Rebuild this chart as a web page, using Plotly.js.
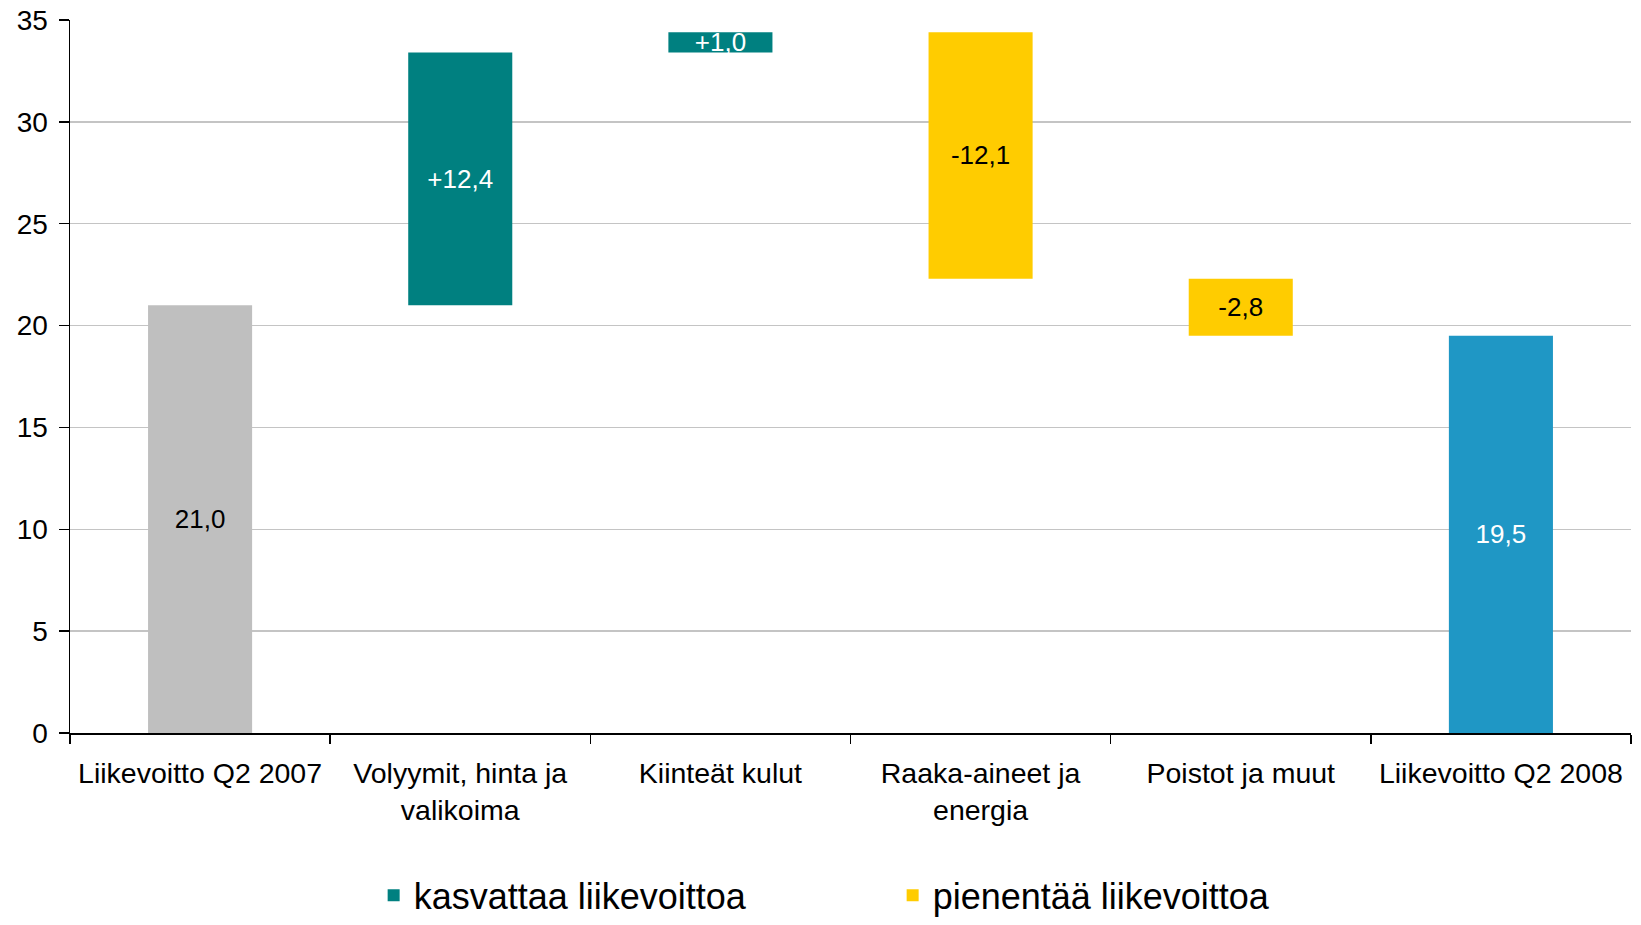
<!DOCTYPE html>
<html>
<head>
<meta charset="utf-8">
<script src="https://cdn.plot.ly/plotly-3.0.1.min.js"></script>
<style>html,body{margin:0;padding:0;background:#fff;}#chart{width:1641px;height:925px;}</style>
</head>
<body>
<div id="chart"></div>
<script>
// ---- data ----
const categories = [
  "Liikevoitto Q2 2007",
  "Volyymit, hinta ja<br>valikoima",
  "Kiinteät kulut",
  "Raaka-aineet ja<br>energia",
  "Poistot ja muut",
  "Liikevoitto Q2 2008"
];
const startValue = 21.0;                 // Liikevoitto Q2 2007
const changes = [12.4, 1.0, -12.1, -2.8]; // bridge steps
const endValue = 19.5;                   // Liikevoitto Q2 2008
const legendNames = ["kasvattaa liikevoittoa", "pienentää liikevoittoa"];

// ---- helpers ----
const fmt = (v, sign) => (sign && v > 0 ? "+" : "") + v.toFixed(1).replace(".", ",");

// cumulative bases for the change bars
const bases = [];
let run = startValue;
changes.forEach(c => { bases.push(run); run += c; });

const stepCats = categories.slice(1, 1 + changes.length);
const incX = [], incY = [], incB = [], incT = [];
const decX = [], decY = [], decB = [], decT = [];
changes.forEach((c, i) => {
  if (c >= 0) { incX.push(stepCats[i]); incY.push(c); incB.push(bases[i]); incT.push(fmt(c, true)); }
  else { decX.push(stepCats[i]); decY.push(c); decB.push(bases[i]); decT.push(fmt(c, true)); }
});

const FONT = "Liberation Sans, Arial, sans-serif";
const common = {
  type: "bar",
  textposition: "inside",
  insidetextanchor: "middle",
  constraintext: "none",
  hoverinfo: "skip",
  marker: {line: {width: 0}}
};

const traces = [
  Object.assign({}, common, {
    x: [categories[0]], y: [startValue], text: [fmt(startValue, false)],
    marker: {color: "#BFBFBF"}, textfont: {family: FONT, size: 26, color: "#000"},
    showlegend: false, name: categories[0]
  }),
  Object.assign({}, common, {
    x: incX, y: incY, base: incB, text: incT,
    marker: {color: "#008080"}, textfont: {family: FONT, size: 26, color: "#fff"},
    name: legendNames[0]
  }),
  Object.assign({}, common, {
    x: decX, y: decY, base: decB, text: decT,
    marker: {color: "#FFCC00"}, textfont: {family: FONT, size: 26, color: "#000"},
    name: legendNames[1]
  }),
  Object.assign({}, common, {
    x: [categories[5]], y: [endValue], text: [fmt(endValue, false)],
    marker: {color: "#1F97C5"}, textfont: {family: FONT, size: 26, color: "#fff"},
    showlegend: false, name: categories[5]
  })
];

const layout = {
  width: 1641, height: 925,
  margin: {l: 70, r: 10, t: 20, b: 192},
  paper_bgcolor: "#fff", plot_bgcolor: "#fff",
  font: {family: FONT, color: "#000"},
  barmode: "overlay",
  bargap: 0.6,
  showlegend: true,
  legend: {
    orientation: "h", x: 0.527, xanchor: "center",
    yref: "container", y: 0.032, yanchor: "middle",
    font: {family: FONT, size: 36, color: "#000"},
    traceorder: "normal", entrywidth: 474, borderwidth: 0
  },
  xaxis: {
    type: "category", categoryorder: "array", categoryarray: categories,
    tickson: "boundaries", ticks: "outside", ticklen: 9, tickwidth: 1.5, tickcolor: "#000",
    showline: true, linecolor: "#000", linewidth: 1.5,
    showgrid: false, zeroline: false,
    tickfont: {family: FONT, size: 28.5, color: "#000"},
    ticklabelstandoff: 14,
    fixedrange: true
  },
  yaxis: {
    range: [0, 35], dtick: 5, tick0: 0,
    ticks: "outside", ticklen: 10, tickwidth: 1.5, tickcolor: "#000",
    showline: true, linecolor: "#000", linewidth: 1.5,
    showgrid: true, gridcolor: "#C4C4C4", gridwidth: 1.5,
    zeroline: false,
    tickfont: {family: FONT, size: 28, color: "#000"},
    ticklabelstandoff: 5,
    fixedrange: true
  }
};

Plotly.newPlot("chart", traces, layout, {displayModeBar: false, staticPlot: true});
</script>
</body>
</html>
